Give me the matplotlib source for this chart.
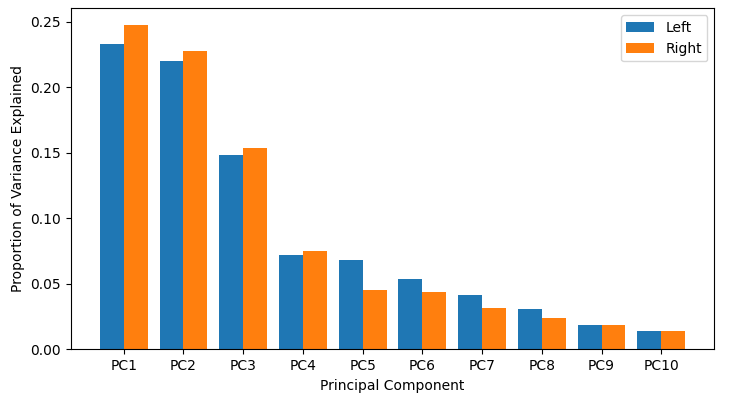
import numpy as np
import matplotlib.pyplot as plt

components = ['PC1', 'PC2', 'PC3', 'PC4', 'PC5', 'PC6', 'PC7', 'PC8', 'PC9', 'PC10']
left = [0.233, 0.220, 0.148, 0.072, 0.068, 0.0535, 0.0413, 0.0306, 0.0183, 0.0138]
right = [0.248, 0.228, 0.154, 0.075, 0.045, 0.0436, 0.0313, 0.0237, 0.0183, 0.0138]

x = np.arange(len(components))
w = 0.4

fig, ax = plt.subplots(figsize=(7.35, 3.96), dpi=100)
ax.bar(x - w / 2, left, w, label='Left', color='#1f77b4')
ax.bar(x + w / 2, right, w, label='Right', color='#ff7f0e')
ax.set_xticks(x)
ax.set_xticklabels(components)
ax.set_xlabel('Principal Component')
ax.set_ylabel('Proportion of Variance Explained')
ax.legend(loc='upper right')
fig.subplots_adjust(left=0.096, right=0.972, top=0.979, bottom=0.118)
fig.savefig('out.png')
